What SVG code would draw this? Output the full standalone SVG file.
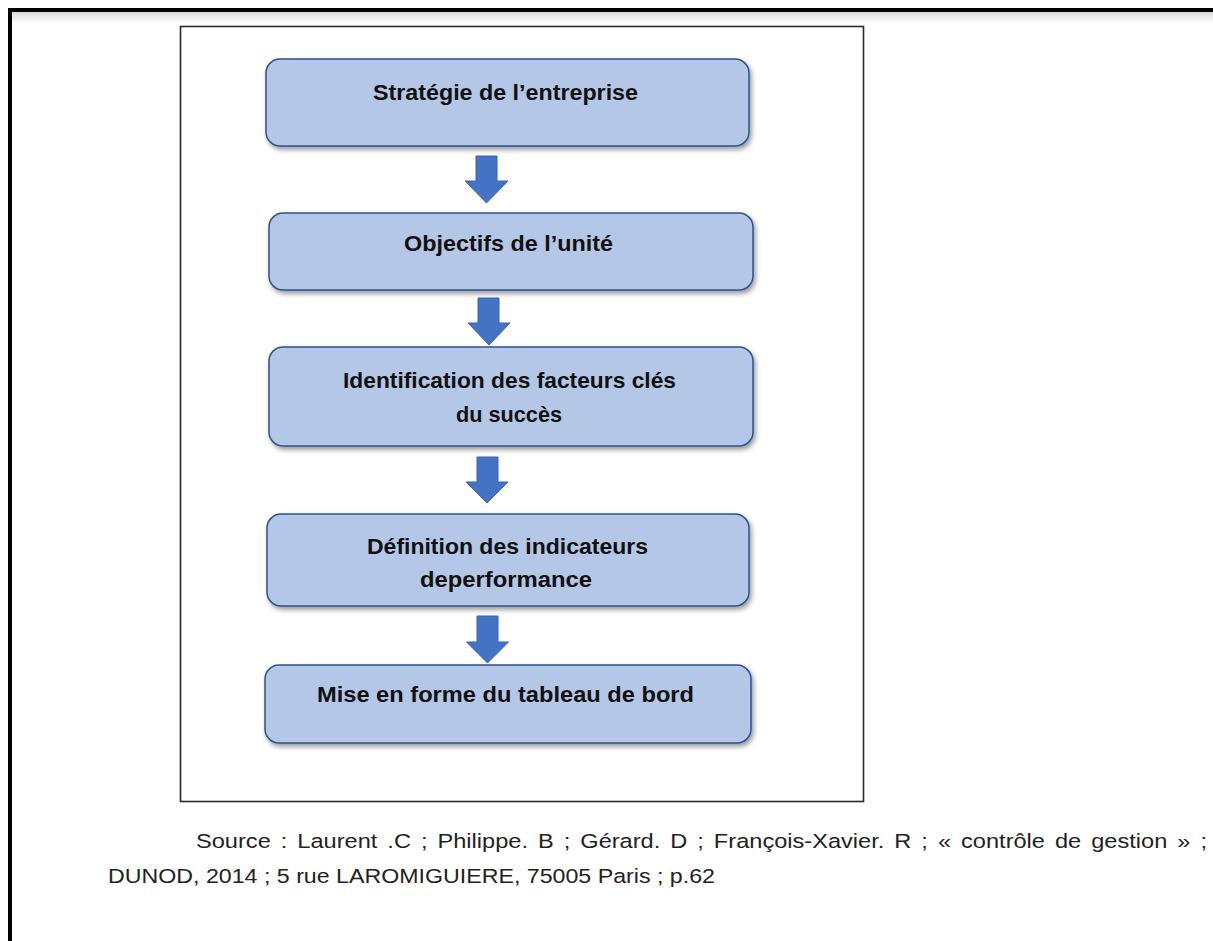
<svg xmlns="http://www.w3.org/2000/svg" width="1213" height="941" viewBox="0 0 1213 941">
  <defs>
    <linearGradient id="topShade" x1="0" y1="0" x2="0" y2="1">
      <stop offset="0" stop-color="#d8d8d8"/>
      <stop offset="1" stop-color="#ffffff"/>
    </linearGradient>
    <filter id="shadow" x="-10%" y="-20%" width="120%" height="150%">
      <feDropShadow dx="2" dy="3" stdDeviation="2.5" flood-color="#000" flood-opacity="0.4"/>
    </filter>
    <style>
      .box { fill: #B4C7E7; stroke: #2F528F; stroke-width: 1.5; filter: url(#shadow); }
      .lbl { font-family: "Liberation Sans", Arial, sans-serif; font-weight: bold; font-size: 22px; fill: #111; text-anchor: middle; }
      .arrow { fill: #4472C4; stroke: #3A63AE; stroke-width: 1; }
      .src { font-family: "Liberation Sans", Arial, sans-serif; font-size: 20.5px; fill: #222; }
    </style>
  </defs>
  <rect x="0" y="0" width="1213" height="941" fill="#ffffff"/>
  <!-- page edge -->
  <rect x="11" y="12" width="1202" height="11" fill="url(#topShade)"/>
  <rect x="8" y="8" width="1205" height="4" fill="#000"/>
  <rect x="8" y="8" width="4" height="933" fill="#000"/>
  <!-- inner frame -->
  <rect x="180.5" y="26.5" width="683" height="775" fill="none" stroke="#2a2a2a" stroke-width="1.6"/>

  <g id="connectors">
    <path class="arrow" d="M476,156 H497 V181 H508 L486.5,203 L465,181 H476 Z"/>
    <path class="arrow" d="M478,298 H499 V323 H510 L489,345 L468,323 H478 Z"/>
    <path class="arrow" d="M477,457 H498 V482 H508 L487,503 L466,482 H477 Z"/>
    <path class="arrow" d="M477,616 H498 V642 H508.5 L487.5,663 L466.5,642 H477 Z"/>
  </g>

  <g id="node1">
    <rect class="box" x="266" y="59" width="483" height="87" rx="14"/>
    <text class="lbl" x="505.5" y="100" textLength="265" lengthAdjust="spacingAndGlyphs">Stratégie de l’entreprise</text>
  </g>
  <g id="node2">
    <rect class="box" x="269" y="213" width="484" height="77" rx="14"/>
    <text class="lbl" x="508.5" y="251" textLength="209" lengthAdjust="spacingAndGlyphs">Objectifs de l’unité</text>
  </g>
  <g id="node3">
    <rect class="box" x="269" y="347" width="484" height="99" rx="14"/>
    <text class="lbl" x="509.5" y="388" textLength="333" lengthAdjust="spacingAndGlyphs">Identification des facteurs clés</text>
    <text class="lbl" x="509" y="422" textLength="106" lengthAdjust="spacingAndGlyphs">du succès</text>
  </g>
  <g id="node4">
    <rect class="box" x="267" y="514" width="482" height="92" rx="14"/>
    <text class="lbl" x="507.5" y="554" textLength="281" lengthAdjust="spacingAndGlyphs">Définition des indicateurs</text>
    <text class="lbl" x="506" y="587" textLength="172" lengthAdjust="spacingAndGlyphs">deperformance</text>
  </g>
  <g id="node5">
    <rect class="box" x="265" y="665" width="486" height="78" rx="14"/>
    <text class="lbl" x="505.5" y="702" textLength="377" lengthAdjust="spacingAndGlyphs">Mise en forme du tableau de bord</text>
  </g>

  <g id="source">
    <text class="src" x="196" y="848" word-spacing="3" textLength="1011" lengthAdjust="spacingAndGlyphs">Source : Laurent .C ; Philippe. B ; Gérard. D ; François-Xavier. R ; « contrôle de gestion » ;</text>
    <text class="src" x="108" y="883" textLength="607" lengthAdjust="spacingAndGlyphs">DUNOD, 2014 ; 5 rue LAROMIGUIERE, 75005 Paris ; p.62</text>
  </g>
</svg>
